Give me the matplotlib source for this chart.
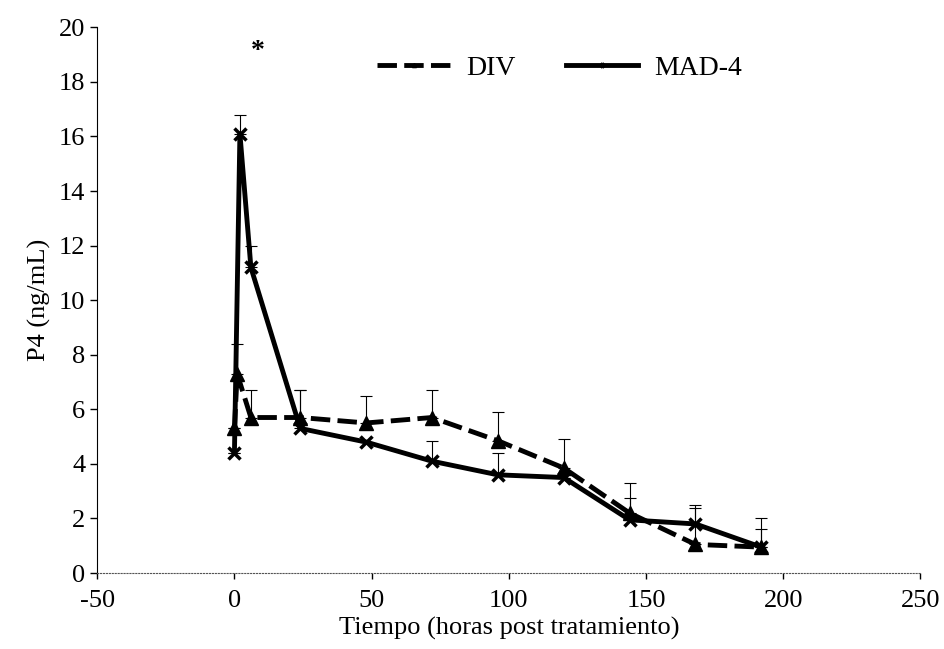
import matplotlib.pyplot as plt

plt.rcParams['font.family'] = ['Liberation Serif', 'DejaVu Serif']
plt.rcParams['axes.unicode_minus'] = False

# DIV
div_t = [0, 1, 6, 24, 48, 72, 96, 120, 144, 168, 192]
div_p4 = [5.3, 7.3, 5.7, 5.7, 5.5, 5.7, 4.85, 3.85, 2.2, 1.05, 0.95]
div_err = [0, 1.1, 1.0, 1.0, 1.0, 1.0, 1.05, 1.05, 1.1, 1.45, 1.05]

# MAD-4
mad_t = [0, 2, 6, 24, 48, 72, 96, 120, 144, 168, 192]
mad_p4 = [4.4, 16.1, 11.2, 5.3, 4.8, 4.1, 3.6, 3.5, 1.95, 1.8, 0.95]
mad_err = [0, 0.7, 0.8, 1.4, 0, 0.75, 0.8, 0, 0.8, 0.6, 0.65]

fig = plt.figure(figsize=(9.44, 6.49), dpi=100)
ax = fig.add_axes([0.103, 0.117, 0.872, 0.841])

ax.errorbar(div_t, div_p4, yerr=[[0] * len(div_err), div_err], fmt='none',
            ecolor='black', elinewidth=0.8, capsize=4, capthick=0.8)
ax.errorbar(mad_t, mad_p4, yerr=[[0] * len(mad_err), mad_err], fmt='none',
            ecolor='black', elinewidth=0.8, capsize=4, capthick=0.8)

ax.plot(div_t, div_p4, color='black', lw=3.5, ls=(0, (4, 1.5)),
        marker='^', ms=10, label='DIV')
ax.plot(mad_t, mad_p4, color='black', lw=3.5, ls='-',
        marker='x', ms=9, mew=2.5, label='MAD-4')

ax.text(8.5, 19.1, '*', fontsize=20, fontweight='bold', ha='center', va='center')

ax.set_xlim(-50, 250)
ax.set_ylim(0, 20)
ax.set_xticks(range(-50, 251, 50))
ax.set_yticks(range(0, 21, 2))
ax.tick_params(labelsize=19, length=5, width=1)
ax.tick_params(axis='x', length=4, pad=8)

ax.spines['top'].set_visible(False)
ax.spines['right'].set_visible(False)
ax.spines['bottom'].set_linestyle(':')
ax.spines['bottom'].set_color('#555555')

ax.set_xlabel('Tiempo (horas post tratamiento)', fontsize=19, labelpad=4)
ax.set_ylabel('P4 (ng/mL)', fontsize=19, labelpad=6)

leg = ax.legend(loc='center left', bbox_to_anchor=(0.31, 0.925), ncol=2,
                frameon=False, fontsize=20, handlelength=2.6,
                handletextpad=0.6, columnspacing=1.8, markerscale=0.3)

fig.savefig('out.png')
